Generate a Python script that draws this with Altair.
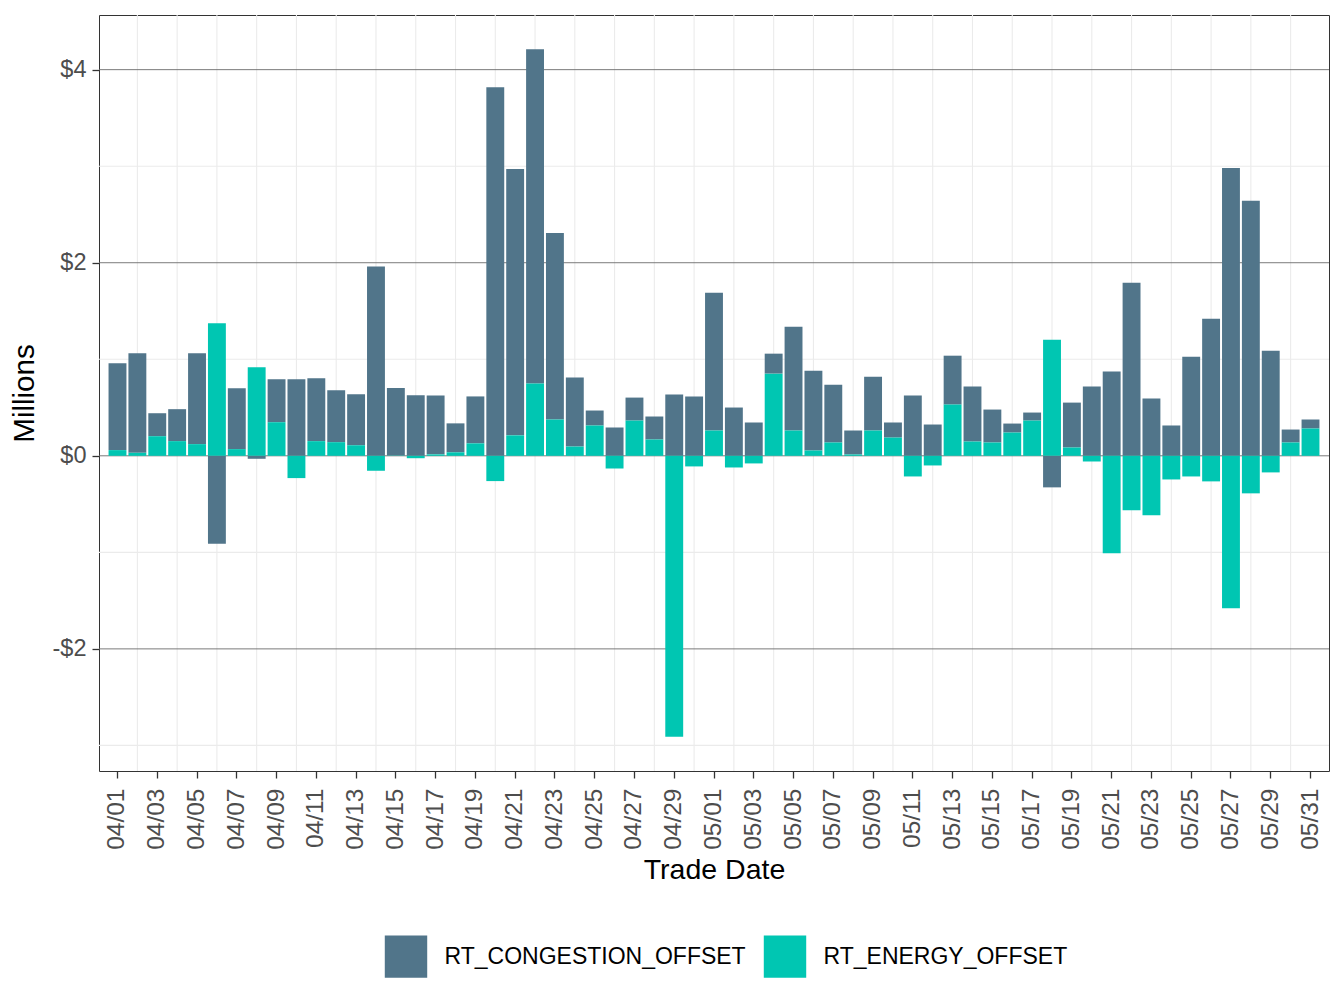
import altair as alt
import pandas as pd

dates = ["04/%02d" % d for d in range(1, 31)] + ["05/%02d" % d for d in range(1, 32)]

congestion = [
    0.900, 1.031, 0.238, 0.331, 0.941, -0.910, 0.631, -0.031, 0.445, 0.793,
    0.651, 0.538, 0.528, 1.962, 0.698, 0.626, 0.610, 0.300, 0.486, 3.817,
    2.760, 3.462, 1.932, 0.714, 0.155, 0.293, 0.238, 0.238, 0.634, 0.613,
    1.426, 0.500, 0.345, 0.207, 1.075, 0.827, 0.599, 0.248, 0.558, 0.156,
    0.624, 0.324, 0.506, 0.569, 0.341, 0.093, 0.083, -0.327, 0.465, 0.717,
    0.872, 1.793, 0.593, 0.314, 1.027, 1.419, 2.982, 2.641, 1.089, 0.134,
    0.093,
]

energy = [
    0.059, 0.031, 0.203, 0.152, 0.121, 1.372, 0.069, 0.917, 0.348, -0.231,
    0.152, 0.141, 0.110, -0.155, 0.003, -0.025, 0.015, 0.036, 0.129, -0.262,
    0.212, 0.748, 0.376, 0.096, 0.314, -0.131, 0.365, 0.169, -2.909, -0.110,
    0.262, -0.121, -0.079, 0.851, 0.262, 0.055, 0.138, 0.014, 0.262, 0.189,
    -0.214, -0.100, 0.531, 0.148, 0.138, 0.241, 0.365, 1.202, 0.086, -0.059,
    -1.009, -0.565, -0.617, -0.245, -0.214, -0.265, -1.578, -0.389, -0.172, 0.138,
    0.283,
]

series = ["RT_CONGESTION_OFFSET", "RT_ENERGY_OFFSET"]
colors = ["#51758a", "#00c6b2"]

label_dates = dates[::2]
grid_dates = dates[1::2]
major_y = [-2, 0, 2, 4]
minor_y = [-3, -1, 1, 3]

rows = []
for d, c, e in zip(dates, congestion, energy):
    rows.append({"date": d, "series": series[0], "value": c, "ord": 1})
    rows.append({"date": d, "series": series[1], "value": e, "ord": 0})
df = pd.DataFrame(rows)

FONT = "Liberation Sans"
xscale = alt.Scale(domain=dates, paddingInner=0.1, paddingOuter=0.48)
yscale = alt.Scale(domain=[-3.265, 4.566], nice=False, zero=False)

x_axis = alt.Axis(
    values=label_dates,
    title="Trade Date",
    labelAngle=270,
    labelFontSize=24.5,
    labelPadding=10,
    titlePadding=6,
    grid=False,
)
y_axis = alt.Axis(
    values=major_y,
    labelExpr="(datum.value < 0 ? '-$' : '$') + format(abs(datum.value), 'd')",
    title="Millions",
    labelFontSize=23.5,
    labelPadding=6,
    titlePadding=13,
    titleFontSize=29.5,
    grid=False,
)

grid_x = alt.Chart(pd.DataFrame({"date": grid_dates})).mark_rule(
    color="#ebebeb", strokeWidth=1.1
).encode(x=alt.X("date:N", scale=xscale, sort=dates, axis=x_axis))

grid_y_minor = alt.Chart(pd.DataFrame({"value": minor_y})).mark_rule(
    color="#ebebeb", strokeWidth=1.1
).encode(y=alt.Y("value:Q", scale=yscale, axis=y_axis))

grid_y_major = alt.Chart(pd.DataFrame({"value": major_y})).mark_rule(
    color="#6b6b6b", strokeWidth=0.9
).encode(y=alt.Y("value:Q", scale=yscale, axis=y_axis))

bars = alt.Chart(df).mark_bar().encode(
    x=alt.X("date:N", scale=xscale, sort=dates, axis=x_axis),
    y=alt.Y("value:Q", scale=yscale, stack="zero", axis=y_axis),
    color=alt.Color(
        "series:N",
        scale=alt.Scale(domain=series, range=colors),
        legend=alt.Legend(
            orient="none",
            legendX=285.5,
            legendY=920,
            direction="horizontal",
            title=None,
            symbolType="square",
            symbolSize=1800,
            symbolStrokeWidth=0,
            symbolOpacity=1,
            labelFont=FONT,
            labelFontSize=23,
            labelColor="#000000",
            labelOffset=17,
            labelLimit=500,
            columnPadding=17,
            padding=0,
        ),
    ),
    order=alt.Order("ord:Q"),
)

chart = (
    alt.layer(grid_x, grid_y_minor, grid_y_major, bars)
    .properties(
        width=1230,
        height=756,
        autosize=alt.AutoSizeParams(type="none"),
        padding={"left": 91, "top": 7, "right": 5, "bottom": 220},
        background="white",
    )
    .configure_view(stroke="#333333", strokeWidth=1)
    .configure_axis(
        labelFont=FONT,
        titleFont=FONT,
        labelFontSize=23,
        titleFontSize=28.5,
        titleFontWeight="normal",
        labelColor="#4d4d4d",
        titleColor="#000000",
        tickColor="#333333",
        tickWidth=1.3,
        tickSize=7,
        domain=False,
    )
)

chart.save("out.html", embed_options={"renderer": "svg", "actions": False})
